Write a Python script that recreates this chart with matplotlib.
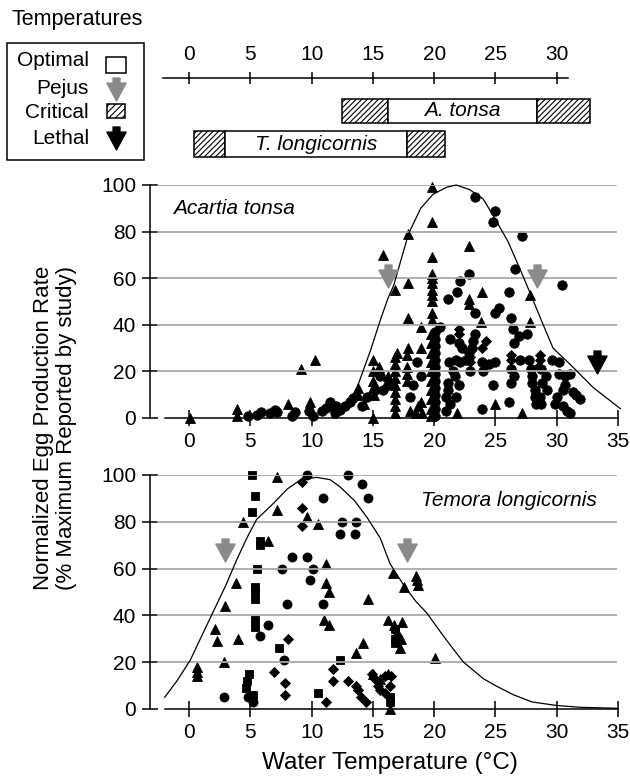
import matplotlib
matplotlib.use('Agg')
import matplotlib.pyplot as plt
import matplotlib.patches as patches
from matplotlib.path import Path

plt.rcParams['font.family'] = ['Liberation Sans', 'DejaVu Sans']
plt.rcParams['hatch.linewidth'] = 0.8

# thermal windows (deg C): critical low, pejus low, pejus high, critical high
at_limits = [12.5, 16.2, 28.4, 32.7]
tl_limits = [0.4, 2.9, 17.8, 20.9]
at_lethal = 33.3

ruler_ticks = [0, 5, 10, 15, 20, 25, 30]
x_ticks = [0, 5, 10, 15, 20, 25, 30, 35]
y_ticks = [0, 20, 40, 60, 80, 100]

# Acartia tonsa egg production (temperature, % of max)
at_tri = [(0.1, 0), (3.9, 4), (3.9, 1), (8.1, 6), (9.1, 21), (10.3, 25), (9.9, 7), (9.9, 4),
          (13.8, 13), (13.8, 10), (14.3, 6), (15.0, 25), (15.0, 20), (15.0, 16), (15.0, 13),
          (15.1, 10), (15.0, 0), (15.8, 70), (16.8, 55), (16.8, 26), (16.8, 23), (16.8, 20),
          (16.8, 17), (16.8, 14), (16.8, 11), (16.8, 8), (16.8, 5), (16.8, 2), (17.0, 28),
          (17.9, 79), (17.9, 58), (17.9, 43), (17.8, 27), (17.8, 22), (17.8, 19), (17.8, 16),
          (17.9, 30), (18.0, 3), (18.5, 2), (18.7, 5), (18.9, 39), (18.9, 30), (18.9, 7),
          (19.0, 2), (19.8, 99), (19.8, 84), (19.8, 69), (19.8, 62), (19.8, 60), (19.8, 58),
          (19.8, 55), (19.8, 53), (19.8, 50), (19.8, 45), (19.8, 42), (19.7, 36), (19.7, 32),
          (19.7, 28), (19.7, 24), (19.7, 20), (19.7, 16), (19.7, 12), (19.7, 8), (19.7, 4),
          (19.7, 1), (21.9, 2), (22.8, 74), (22.8, 51), (22.8, 49), (23.9, 54), (23.8, 41),
          (25.0, 6), (27.2, 2), (27.8, 53), (27.8, 41), (16.2, 18), (15.5, 22)]
at_circ = [(4.8, 1), (5.5, 1.5), (5.9, 2.5), (6.6, 2), (7.0, 3.5), (7.2, 2.5), (8.4, 1),
           (8.6, 2.5), (9.8, 3), (10.1, 1), (10.8, 3), (11.2, 4.5), (11.5, 7), (11.6, 5),
           (11.9, 2), (12.0, 5), (12.3, 3.5), (12.7, 5), (13.1, 7), (13.4, 8.5), (14.1, 5),
           (14.5, 9), (15.2, 12), (15.6, 18), (15.8, 12), (16.2, 14), (18.0, 9), (18.6, 24),
           (20.1, 37), (20.1, 34), (20.1, 31), (20.1, 28), (20.1, 25), (20.1, 22), (20.1, 19),
           (20.1, 16), (20.1, 13), (20.1, 10), (20.1, 7), (20.1, 4), (20.1, 1),
           (23.3, 95), (25.0, 89), (24.8, 84), (27.2, 78), (26.6, 64), (22.8, 62), (22.1, 59),
           (30.4, 57), (21.9, 54), (26.1, 54), (21.1, 51), (23.3, 45), (25.0, 45), (25.3, 47),
           (26.3, 43), (26.4, 38), (26.9, 35), (27.6, 36), (26.5, 32), (20.5, 39), (23.3, 36),
           (23.2, 33), (23.1, 30), (21.3, 34), (22.0, 32), (22.3, 30), (22.8, 28), (22.6, 25),
           (21.2, 24), (21.8, 25), (22.1, 24), (23.9, 24), (24.5, 23), (25.0, 24), (26.3, 21),
           (26.5, 18), (26.3, 15), (27.0, 25), (27.7, 25), (27.9, 21), (28.0, 18), (28.0, 15),
           (28.2, 12), (28.2, 9), (28.3, 6), (28.7, 21), (29.1, 18), (28.8, 15), (29.2, 12),
           (28.6, 9), (28.7, 6), (29.6, 25), (30.2, 24), (30.2, 19), (30.7, 18), (31.1, 19),
           (30.7, 14), (31.3, 11), (31.6, 10), (31.9, 8), (30.0, 9), (29.9, 6), (30.5, 5),
           (30.8, 3), (31.1, 2), (30.5, 12), (21.1, 15), (21.1, 12), (21.0, 9), (21.3, 6),
           (21.0, 3), (22.0, 14), (21.8, 9), (23.9, 4), (24.8, 14), (26.1, 7), (21.5, 20),
           (21.7, 18), (24.0, 20), (22.9, 20), (18.3, 14), (18.9, 18)]
at_diam = [(22.0, 38), (22.0, 36), (22.9, 26), (22.9, 24), (26.3, 27), (26.3, 25),
           (28.6, 27), (28.6, 25), (28.5, 22), (23.9, 30), (24.2, 33)]
at_curve = [(12.9, 8), (13.3, 9), (13.7, 13), (14.8, 29), (15.6, 42), (16.2, 51), (16.7, 57),
            (17.9, 79), (18.9, 90), (19.9, 96), (21.0, 99), (21.8, 100), (22.9, 98), (24.0, 94),
            (24.8, 87), (26.0, 76), (27.0, 64), (27.8, 54), (28.9, 40), (29.7, 30), (31.1, 23),
            (33.0, 13), (35.2, 4)]

# Temora longicornis egg production (temperature, % of max)
tl_tri = [(7.2, 99), (7.2, 85), (9.6, 82), (10.5, 79), (4.4, 80), (6.4, 72), (11.2, 62),
          (11.2, 54), (11.4, 50), (3.8, 54), (14.6, 47), (2.9, 44), (2.1, 34), (11.0, 38),
          (11.4, 36), (2.3, 29), (4.0, 30), (2.8, 20), (13.6, 24), (14.2, 28), (16.2, 38),
          (0.6, 18), (0.6, 16), (0.6, 14), (16.6, 58), (17.5, 52), (18.5, 57), (18.6, 55),
          (18.7, 53), (17.4, 37), (17.2, 26), (20.1, 22), (16.4, 0), (16.7, 36), (17.0, 33),
          (17.3, 30), (15.0, 15), (15.6, 13), (16.2, 15)]
tl_circ = [(9.6, 100), (13.0, 100), (14.1, 96), (10.9, 90), (14.6, 90), (12.5, 80), (13.6, 80),
           (12.3, 75), (13.5, 75), (8.4, 65), (9.6, 65), (7.6, 60), (10.1, 60), (9.9, 55),
           (8.0, 45), (10.9, 45), (6.4, 36), (5.8, 31), (7.7, 21), (2.8, 5), (4.8, 5), (5.2, 3)]
tl_sq = [(5.1, 100), (5.4, 91), (5.1, 84), (5.8, 72), (5.8, 70), (5.5, 60), (5.4, 52), (5.4, 50),
         (5.4, 47), (5.4, 38), (5.4, 35), (7.3, 26), (12.3, 21), (4.9, 15), (4.7, 12), (4.6, 9),
         (10.5, 7), (16.4, 5), (16.4, 3), (16.8, 34), (16.8, 30), (16.8, 28), (5.2, 6)]
tl_diam = [(9.2, 97), (9.2, 86), (9.2, 78), (8.1, 30), (6.9, 16), (11.7, 17), (11.7, 12),
           (7.8, 11), (7.8, 6), (11.2, 3), (13.0, 12), (13.6, 10), (13.8, 8), (14.0, 5),
           (14.4, 3), (14.9, 15), (15.2, 13), (15.4, 10), (15.6, 8), (16.0, 14), (16.5, 14),
           (16.4, 10), (16.0, 7)]
tl_curve = [(-2.0, 5), (-1.0, 12), (0.1, 21), (1.0, 31), (2.0, 42), (3.0, 53), (3.9, 64),
            (4.7, 73), (5.5, 81), (6.9, 88), (8.0, 94), (9.1, 98), (10.4, 99), (11.5, 98),
            (12.3, 95), (13.5, 89), (14.5, 82), (15.6, 73), (16.4, 62), (17.5, 53), (18.5, 46),
            (19.4, 41), (20.5, 33), (21.5, 26), (22.4, 20), (24.0, 13), (25.0, 10), (26.5, 6),
            (28.0, 3), (30.0, 1.5), (32.0, 0.7), (35.0, 0.3)]

X_MIN, X_MAX = -3.2, 35.3
PEJUS_GREY = '#8a8a8a'
GRID_GREY = '#a8a8a8'
FS = 15
HATCH = '//////'

# down-pointing arrow used for pejus / lethal marks
arrow = Path([(-0.15, 0.5), (0.15, 0.5), (0.15, 0.28), (0.42, 0.28), (0, -0.5),
              (-0.42, 0.28), (-0.15, 0.28), (-0.15, 0.5)], closed=True)

fig = plt.figure(figsize=(6.3, 7.77), dpi=100)
fig.patch.set_facecolor('white')

# overlay in pixel units for the legend box
ov = fig.add_axes([0, 0, 1, 1])
ov.set_xlim(0, 630)
ov.set_ylim(777, 0)
ov.axis('off')
ov.text(12, 20, "Temperatures", ha='left', va='center', fontsize=15.5)
ov.add_patch(patches.Rectangle((7, 43), 137, 117, fc='white', ec='black', lw=1.1))
ov.text(89, 61, "Optimal", ha='right', va='center', fontsize=FS)
ov.text(89, 88, "Pejus", ha='right', va='center', fontsize=FS)
ov.text(89, 112, "Critical", ha='right', va='center', fontsize=FS)
ov.text(89, 138, "Lethal", ha='right', va='center', fontsize=FS)
ov.add_patch(patches.Rectangle((106, 57), 20, 16, fc='white', ec='black', lw=1.1))
ov.add_patch(patches.Rectangle((107, 104), 18, 14, fc='white', ec='black', lw=1.1, hatch='/////'))
ov.plot([116], [89], marker=arrow, ms=16.5, color=PEJUS_GREY, ls='none')
ov.plot([116], [138], marker=arrow, ms=16.5, color='black', ls='none')

# temperature ruler with thermal windows
ax_w = (X_MAX - X_MIN) * 12.25 / 630
rax = fig.add_axes([150 / 630, 1 - 165 / 777, ax_w, 125 / 777])
rax.set_xlim(X_MIN, X_MAX)
rax.set_ylim(0, 125)
rax.axis('off')
rax.plot([-2.1, 30.9], [87, 87], color='black', lw=1.1)
rax.vlines(ruler_ticks, 81, 93, colors='black', lw=1.1)
for t in ruler_ticks:
    rax.text(t, 110, str(t), ha='center', va='center', fontsize=FS)


def draw_window(lims, yc, h, label):
    rax.barh(yc, lims[1] - lims[0], left=lims[0], height=h, color='white',
             edgecolor='black', hatch=HATCH, lw=1.1)
    rax.barh(yc, lims[2] - lims[1], left=lims[1], height=h, color='white',
             edgecolor='black', lw=1.1)
    rax.barh(yc, lims[3] - lims[2], left=lims[2], height=h, color='white',
             edgecolor='black', hatch=HATCH, lw=1.1)
    rax.text((lims[1] + lims[2]) / 2, yc, label, ha='center', va='center',
             fontsize=FS, style='italic')


draw_window(at_limits, 54, 24, "A. tonsa")
draw_window(tl_limits, 21, 26, "T. longicornis")


def setup_panel(ax):
    ax.set_xlim(X_MIN, X_MAX)
    ax.set_ylim(0, 100)
    ax.patch.set_visible(False)
    ax.spines['top'].set_visible(False)
    ax.spines['right'].set_visible(False)
    ax.spines['left'].set_bounds(0, 100)
    ax.spines['bottom'].set_bounds(-2.0, 35)
    for s in ('left', 'bottom'):
        ax.spines[s].set_linewidth(1.1)
    ax.set_xticks(x_ticks)
    ax.set_yticks(y_ticks)
    ax.tick_params(direction='inout', length=12, width=1.1, labelsize=FS, pad=4)
    ax.hlines(y_ticks[1:], -2.6, 34.9, colors=GRID_GREY, lw=1.3, zorder=4)


def scatter(ax, pts, marker, ms):
    t, v = zip(*pts)
    ax.plot(t, v, ls='none', marker=marker, ms=ms, color='black', mec='black',
            mew=0.6, clip_on=False, zorder=3)


def curve(ax, pts):
    t, v = zip(*pts)
    ax.plot(t, v, color='black', lw=0.9, zorder=5, clip_on=False)


def arrows(ax, temps, level, color):
    ax.plot(temps, [level] * len(temps), ls='none', marker=arrow, ms=16.5,
            color=color, zorder=6, clip_on=False)


ax1 = fig.add_axes([150 / 630, 1 - 418 / 777, ax_w, 233 / 777])
setup_panel(ax1)
scatter(ax1, at_circ, 'o', 6.8)
scatter(ax1, at_diam, 'D', 5)
scatter(ax1, at_tri, '^', 7)
curve(ax1, at_curve)
arrows(ax1, [at_limits[1], at_limits[2]], 61, PEJUS_GREY)
arrows(ax1, [at_lethal], 24, 'black')
ax1.text(-1.3, 90, "Acartia tonsa", ha='left', va='center', fontsize=FS, style='italic')

ax2 = fig.add_axes([150 / 630, 1 - 709 / 777, ax_w, 234 / 777])
setup_panel(ax2)
scatter(ax2, tl_circ, 'o', 6.5)
scatter(ax2, tl_sq, 's', 6)
scatter(ax2, tl_diam, 'D', 5)
scatter(ax2, tl_tri, '^', 7)
curve(ax2, tl_curve)
arrows(ax2, [tl_limits[1], tl_limits[2]], 68, PEJUS_GREY)
ax2.text(18.9, 89, "Temora longicornis", ha='left', va='center', fontsize=FS, style='italic')

fig.text(390 / 630, 1 - 763 / 777, "Water Temperature (°C)", ha='center', va='center', fontsize=17.5)
fig.text(55 / 630, 1 - 428 / 777, "Normalized Egg Production Rate\n(% Maximum Reported by study)",
         ha='center', va='center', rotation=90, fontsize=16, linespacing=1.1)

fig.savefig('out.png', dpi=100)
